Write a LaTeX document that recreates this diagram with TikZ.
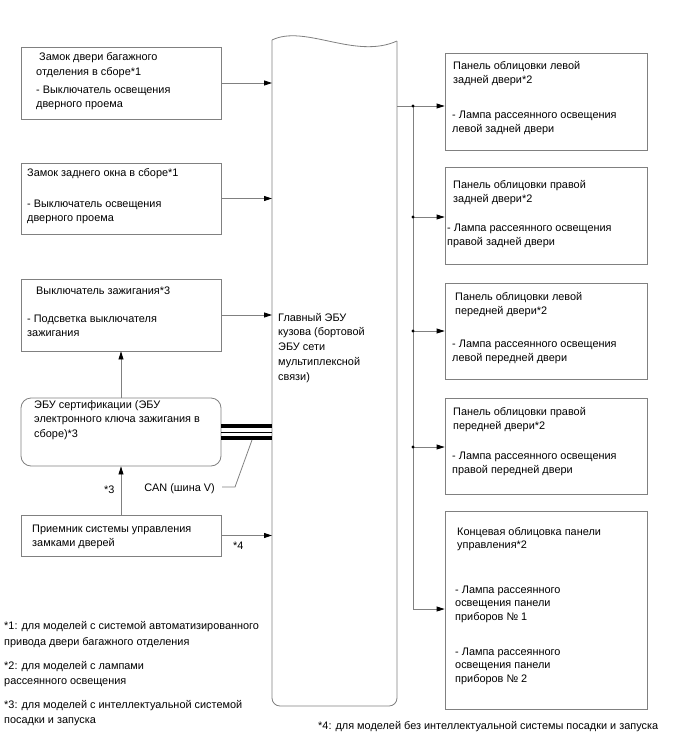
\documentclass[tikz,border=0pt]{standalone}
\usepackage{fontspec}
\setmainfont{Liberation Sans}
\usetikzlibrary{arrows.meta}
\definecolor{lgray}{HTML}{808080}
\newcommand{\tl}[1]{\begin{tabular}[t]{@{}l@{}}#1\end{tabular}}
\begin{document}
\begin{tikzpicture}[x=1pt,y=-1pt,
  box/.style={draw=lgray, line width=0.8pt, inner sep=0pt},
  lbox/.style={box, minimum width=200pt},
  rbox/.style={box, minimum width=202pt},
  txt/.style={anchor=base west, inner sep=0pt, font=\fontsize{10.9}{14.8}\selectfont},
  txtb/.style={txt, font=\fontsize{10.9}{13.5}\selectfont},
  ln/.style={draw=lgray, line width=0.8pt},
  arr/.style={ln, -{Triangle[length=8pt,width=5pt,color=black]}},
  dotc/.style={circle, fill=black, inner sep=0pt, minimum size=3.2pt}
]
\useasboundingbox (0,0) rectangle (688,755);

% main ECU
\draw[ln, rounded corners=8pt] (272,40) -- (272,706) -- (397,706) -- (397,41);
\draw[ln] (272,40) .. controls (305,24) and (355,60) .. (397,41);
\coordinate (mainW) at (272,0);
\coordinate (mainE) at (397,0);
\node[txt] (tmain) at (278,321) {\tl{Главный ЭБУ\\кузова (бортовой\\ЭБУ сети\\мультиплексной\\связи)}};

% left boxes
\node[lbox, minimum height=72pt] (b1) at (121,83) {};
\node[txt] (t1a) at (39,60) {Замок двери багажного};
\node[txt] (t1b) at (36,75) {отделения в сборе*1};
\node[txt] (t1c) at (36,93) {\tl{- Выключатель освещения\\дверного проема}};

\node[lbox, minimum height=71pt] (b2) at (121,198.5) {};
\node[txt] (t2a) at (27,176) {Замок заднего окна в сборе*1};
\node[txt] (t2b) at (27,207) {\tl{- Выключатель освещения\\дверного проема}};

\node[lbox, minimum height=72pt] (b3) at (121,315) {};
\node[txt] (t3a) at (36,294) {Выключатель зажигания*3};
\node[txt] (t3b) at (27,322) {\tl{- Подсветка выключателя\\зажигания}};

\node[lbox, minimum height=68pt, rounded corners=10pt] (ecu) at (121,432) {};
\node[txt] (t4) at (34,408) {\tl{ЭБУ сертификации (ЭБУ\\электронного ключа зажигания в\\сборе)*3}};

\node[lbox, minimum height=41pt] (rcv) at (121,535.5) {};
\node[txt] (t5) at (32,532) {\tl{Приемник системы управления\\замками дверей}};

% left arrows
\draw[arr] (b1.east) -- (b1.east -| mainW);
\draw[arr] (b2.east) -- (b2.east -| mainW);
\draw[arr] (b3.east) -- (b3.east -| mainW);
\draw[arr] (rcv.east) -- (rcv.east -| mainW);
\node[txt] (s4) at (233,549) {*4};
\draw[arr] (ecu.north) -- (b3.south);
\draw[arr] (rcv.north) -- (ecu.south);
\node[txt] (s3) at (104,493) {*3};

% CAN bus
\coordinate (c1) at (221,426);
\coordinate (c2) at (221,432);
\coordinate (c3) at (221,438);
\draw[line width=3.6pt] (c1) -- (c1 -| mainW);
\draw[line width=1pt] (c2) -- (c2 -| mainW);
\draw[line width=3.6pt] (c3) -- (c3 -| mainW);
\coordinate (cl1) at (252,440);
\coordinate (cl2) at (235,487);
\coordinate (cl3) at (222,487);
\draw[ln] (cl1) -- (cl2) -- (cl3);
\node[txt, anchor=base east] (can) at (215,491) {CAN (шина V)};

% right boxes
\node[rbox, minimum height=97pt] (r1) at (546,101.5) {};
\node[txt] (r1a) at (453,69) {\tl{Панель облицовки левой\\задней двери*2}};
\node[txt] (r1b) at (452,118) {\tl{- Лампа рассеянного освещения\\левой задней двери}};

\node[rbox, minimum height=97pt] (r2) at (546,215.5) {};
\node[txt] (r2a) at (453,188) {\tl{Панель облицовки правой\\задней двери*2}};
\node[txt] (r2b) at (447,231) {\tl{- Лампа рассеянного освещения\\правой задней двери}};

\node[rbox, minimum height=96pt] (r3) at (546,331) {};
\node[txt] (r3a) at (455,300) {\tl{Панель облицовки левой\\передней двери*2}};
\node[txt] (r3b) at (452,347) {\tl{- Лампа рассеянного освещения\\левой передней двери}};

\node[rbox, minimum height=96pt] (r4) at (546,446) {};
\node[txt] (r4a) at (453,415) {\tl{Панель облицовки правой\\передней двери*2}};
\node[txt] (r4b) at (452,459) {\tl{- Лампа рассеянного освещения\\правой передней двери}};

\node[rbox, minimum height=198pt] (r5) at (546,610) {};
\node[txtb] (r5a) at (457,535) {\tl{Концевая облицовка панели\\управления*2}};
\node[txtb] (r5b) at (455,593) {\tl{- Лампа рассеянного\\освещения панели\\приборов № 1}};
\node[txtb] (r5c) at (455,655) {\tl{- Лампа рассеянного\\освещения панели\\приборов № 2}};

% right distribution
\coordinate (j1) at (413,106);
\coordinate (j2) at (413,217);
\coordinate (j3) at (413,331);
\coordinate (j4) at (413,447);
\coordinate (j5) at (413,609);
\draw[ln] (j1 -| mainE) -- (j1);
\draw[ln] (j1) -- (j5);
\draw[arr] (j1) -- (j1 -| r1.west);
\draw[arr] (j2) -- (j2 -| r2.west);
\draw[arr] (j3) -- (j3 -| r3.west);
\draw[arr] (j4) -- (j4 -| r4.west);
\draw[arr] (j5) -- (j5 -| r5.west);
\node[dotc] (d1) at (j1) {};
\node[dotc] (d2) at (j2) {};
\node[dotc] (d3) at (j3) {};
\node[dotc] (d4) at (j4) {};

% footnotes
\node[txt, font=\fontsize{10.9}{16}\selectfont] (f1) at (4,629) {\tl{*1: для моделей с системой автоматизированного\\привода двери багажного отделения}};
\node[txt, font=\fontsize{10.9}{15.5}\selectfont] (f2) at (4,669) {\tl{*2: для моделей с лампами\\рассеянного освещения}};
\node[txt, font=\fontsize{10.9}{15.5}\selectfont] (f3) at (4,708) {\tl{*3: для моделей с интеллектуальной системой\\посадки и запуска}};
\node[txt] (f4) at (318,729) {*4: для моделей без интеллектуальной системы посадки и запуска};
\end{tikzpicture}
\end{document}
